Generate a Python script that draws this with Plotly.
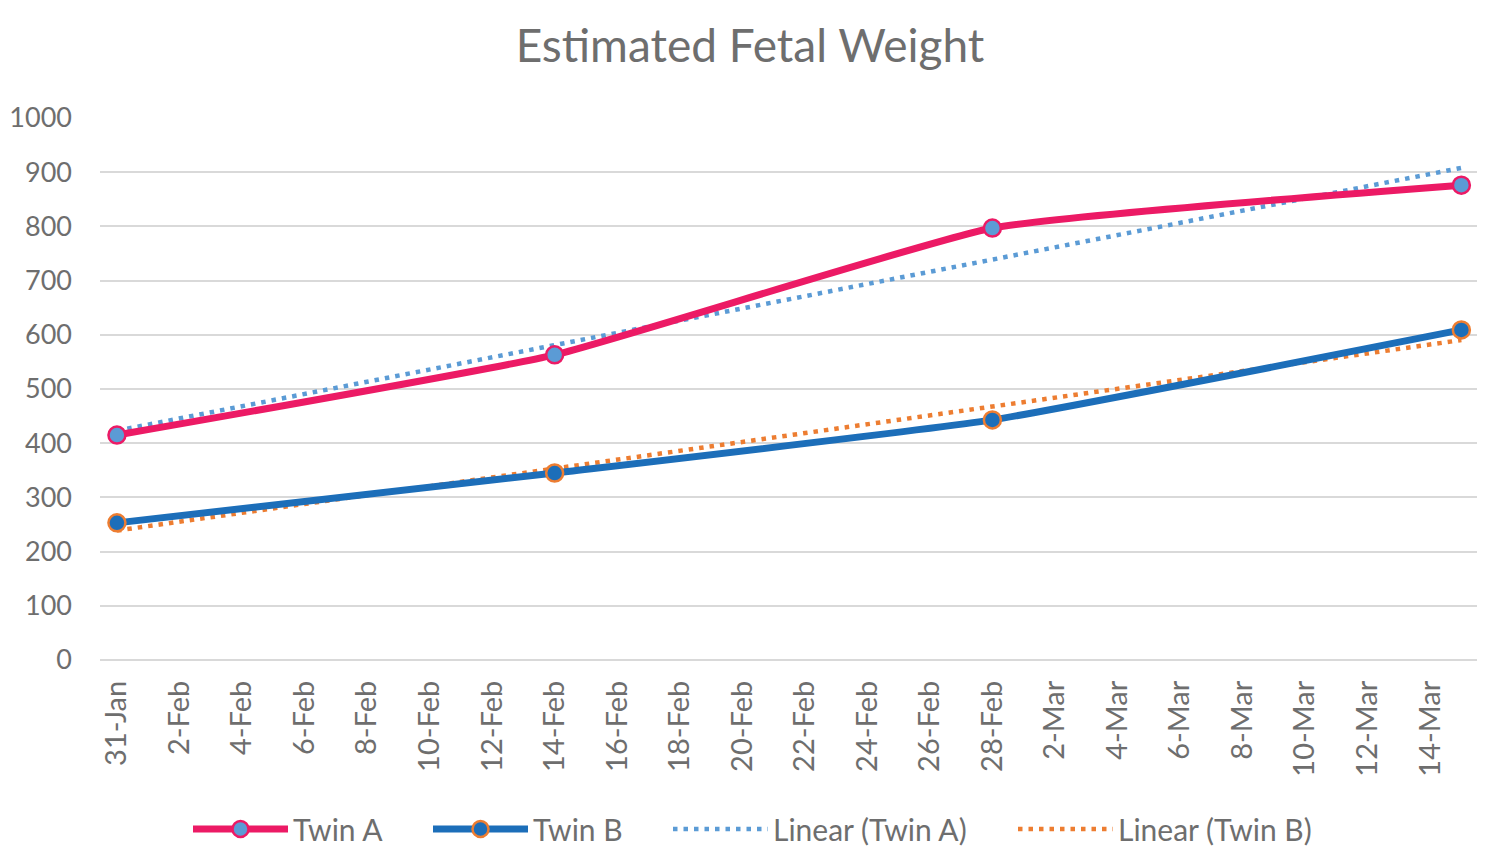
import numpy as np
import pandas as pd
import plotly.graph_objects as go

dates = ["2017-01-31", "2017-02-14", "2017-02-28", "2017-03-15"]
twin_a = [415, 563, 797, 876]
twin_b = [253, 345, 443, 609]
y_ticks = [0, 100, 200, 300, 400, 500, 600, 700, 800, 900, 1000]

dt = pd.to_datetime(dates)
days = np.array([(d - dt[0]).days for d in dt], dtype=float)

def linfit(vals):
    m, b = np.polyfit(days, np.array(vals, dtype=float), 1)
    return [b + m * days[0], b + m * days[-1]]

trend_x = [dt[0], dt[-1]]
trend_a = linfit(twin_a)
trend_b = linfit(twin_b)

PINK = "#EC1A65"
BLUE = "#1C6EB9"
LBLUE = "#5B9BD5"
ORANGE = "#ED7D31"
FONT = "Lato"
TXT = "#6E6E6E"

W, H = 1492, 850

fig = go.Figure()
fig.add_trace(go.Scatter(
    x=trend_x, y=trend_a, name="Linear (Twin A)", mode="lines", legend="legend2",
    line=dict(color=LBLUE, width=4.5, dash="4.5px,6px"),
))
fig.add_trace(go.Scatter(
    x=trend_x, y=trend_b, name="Linear (Twin B)", mode="lines", legend="legend2",
    line=dict(color=ORANGE, width=4.5, dash="4.5px,6px"),
))
fig.add_trace(go.Scatter(
    x=dt, y=twin_a, name="Twin A", mode="lines+markers", legend="legend",
    line=dict(color=PINK, width=7, shape="spline", smoothing=0.4),
    marker=dict(size=17, color=LBLUE, line=dict(color=PINK, width=2.5)),
))
fig.add_trace(go.Scatter(
    x=dt, y=twin_b, name="Twin B", mode="lines+markers", legend="legend",
    line=dict(color=BLUE, width=7, shape="spline", smoothing=0.4),
    marker=dict(size=17, color=BLUE, line=dict(color=ORANGE, width=2.5)),
))
rank = {"Linear (Twin A)": 1, "Linear (Twin B)": 2, "Twin A": 1, "Twin B": 2}
for tr in fig.data:
    tr.legendrank = rank[tr.name]

legend_common = dict(
    orientation="h", xref="container", yref="container",
    yanchor="middle", xanchor="left", y=29 / H,
    font=dict(family=FONT, size=30, color=TXT),
    itemwidth=95, bgcolor="rgba(0,0,0,0)",
)

fig.update_layout(
    width=W, height=H,
    paper_bgcolor="white", plot_bgcolor="white",
    margin=dict(l=92, r=23, t=110, b=198, autoexpand=False),
    title=dict(text="Estimated Fetal Weight", x=742 / W, xanchor="center",
               y=1 - 38 / H, yanchor="middle",
               font=dict(family=FONT, size=46, color=TXT)),
    font=dict(family=FONT, color=TXT),
    showlegend=True,
    legend=dict(legend_common, x=180 / W, entrywidth=130),
    legend2=dict(legend_common, x=660 / W, entrywidth=235),
)
fig.update_xaxes(
    type="date", automargin=False,
    range=[dt[0] - pd.Timedelta(hours=13), dt[-1] + pd.Timedelta(hours=12)],
    tick0=dates[0], dtick=2 * 86400000, tickformat="%-d-%b",
    tickangle=-90, showgrid=False, zeroline=False, showline=False,
    ticks="", ticklabelstandoff=14,
    tickfont=dict(family=FONT, size=29, color=TXT),
)
fig.update_yaxes(
    automargin=False,
    range=[0, 1000], tickvals=y_ticks, showgrid=True, gridcolor="#D9D9D9",
    gridwidth=2, zeroline=True, zerolinecolor="#D9D9D9", zerolinewidth=2,
    showline=False, ticks="", ticklabelstandoff=27,
    tickfont=dict(family=FONT, size=27, color=TXT),
)

fig.write_html("out.html")
